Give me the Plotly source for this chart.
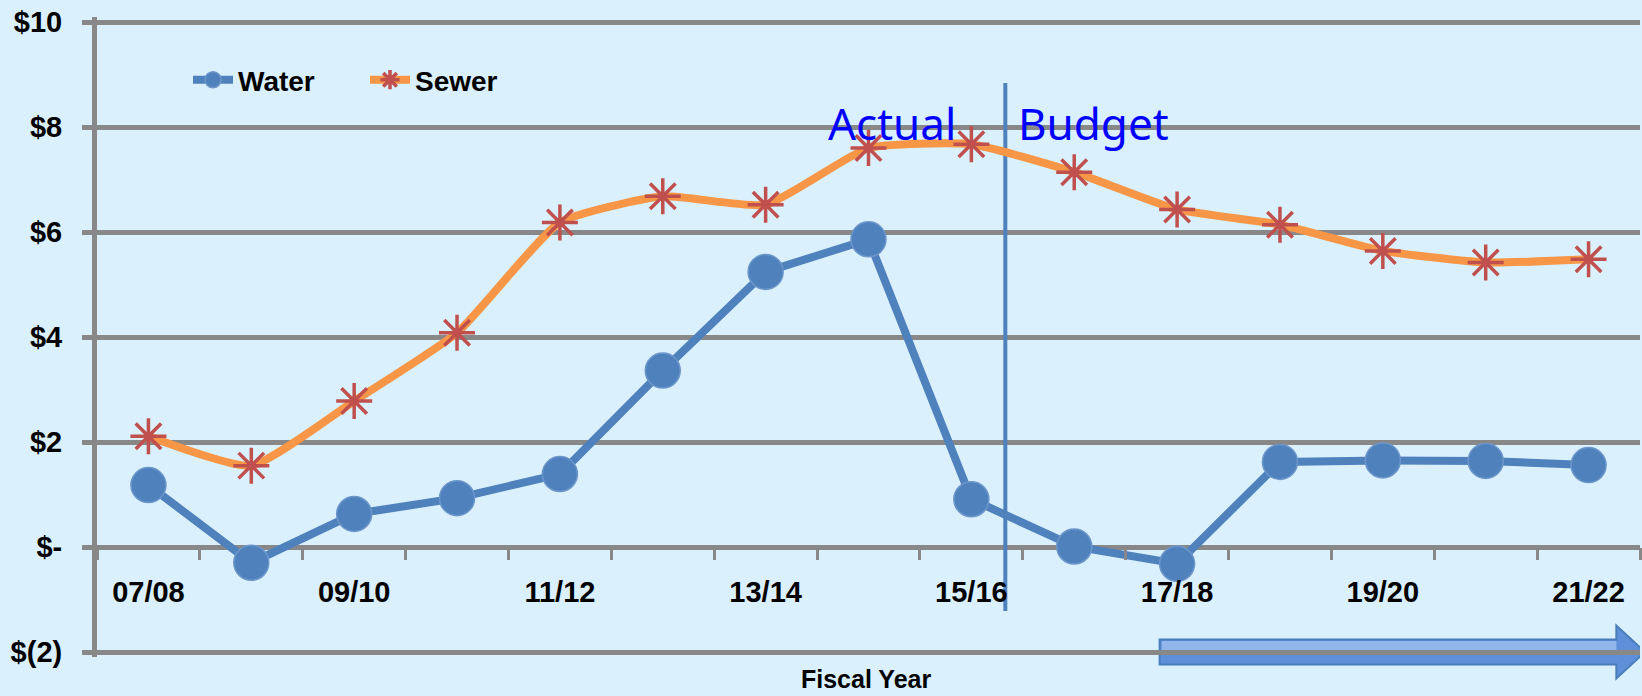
import plotly.graph_objects as go

# ---------------- data ----------------
categories = ["07/08", "08/09", "09/10", "10/11", "11/12", "12/13", "13/14", "14/15",
              "15/16", "16/17", "17/18", "18/19", "19/20", "20/21", "21/22"]
water = [1.18, -0.30, 0.63, 0.93, 1.39, 3.36, 5.24, 5.86, 0.91, 0.01, -0.32, 1.62, 1.65, 1.64, 1.56]
sewer = [2.11, 1.55, 2.78, 4.08, 6.18, 6.68, 6.52, 7.60, 7.67, 7.14, 6.43, 6.14, 5.64, 5.42, 5.48]
y_tick_values = [-2, 0, 2, 4, 6, 8, 10]
y_tick_labels = ["$(2)", "$-", "$2", "$4", "$6", "$8", "$10"]
series_names = ["Water", "Sewer"]
divider_text = ["Actual", "Budget"]
x_title = "Fiscal Year"

# ---------------- styling ----------------
BG = "#DAF0FC"
GRID = "#888888"
BLUE = "#4F81BD"
ORANGE = "#F79646"
RED = "#C0504D"
FONT = "Liberation Sans"

idx = list(range(len(categories)))
y_min, y_max = -2, 10
W, H = 1642, 696
GRID_TOP, GRID_BOTTOM = 22, 652       # pixel rows of the $10 and $(2) gridlines
PAD = 5                                # extra pixels so edge gridlines are drawn
M_L, M_R = 97, 2
M_T = GRID_TOP - PAD
M_B = H - GRID_BOTTOM - PAD
plot_h = H - M_T - M_B
px_per_unit = (GRID_BOTTOM - GRID_TOP) / (y_max - y_min)
pad_units = PAD / px_per_unit
y_range = [y_min - pad_units, y_max + pad_units]

def paper_from_px_offset(off_px):
    """paper y for a pixel offset measured upward from the y_min gridline"""
    return (PAD + off_px) / plot_h

fig = go.Figure()

fig.add_trace(go.Scatter(
    x=idx, y=water, name=series_names[0], mode="lines+markers",
    line=dict(color=BLUE, width=8),
    marker=dict(symbol="circle", size=35, color=BLUE, line=dict(color="#6D97CB", width=1.5)),
))
fig.add_trace(go.Scatter(
    x=idx, y=sewer, name=series_names[1], mode="lines+markers",
    line=dict(color=ORANGE, width=8, shape="spline", smoothing=0.5),
    marker=dict(symbol="asterisk-open", size=30, color=RED, line=dict(color=RED, width=3.5)),
))

# divider between actual and budget
div_x = 8.33
fig.add_shape(type="line", xref="x", yref="y", x0=div_x, x1=div_x, y0=-1.22, y1=8.84,
              line=dict(color=BLUE, width=4), layer="between")

fig.add_annotation(x=7.87, y=8.08, xref="x", yref="y", text=divider_text[0], showarrow=False,
                   xanchor="right", yanchor="middle",
                   font=dict(family="Noto Sans", size=44, color="#0000FF"))
fig.add_annotation(x=8.43, y=8.08, xref="x", yref="y", text=divider_text[1], showarrow=False,
                   xanchor="left", yanchor="middle",
                   font=dict(family="Noto Sans", size=44, color="#0000FF"))

# arrow along the bottom gridline (budget direction)
a_x0, a_xb, a_xt = 9.83, 14.27, 14.55
shaft, head = 12.5, 26.5
p = paper_from_px_offset
path = (f"M {a_x0},{p(shaft)} L {a_xb},{p(shaft)} L {a_xb},{p(head)} "
        f"L {a_xt},{p(0)} L {a_xb},{p(-head)} L {a_xb},{p(-shaft)} "
        f"L {a_x0},{p(-shaft)} Z")
fig.add_shape(type="path", xref="x", yref="paper", path=path,
              fillcolor="#5E8FD8", line=dict(color="#4A7EBB", width=2), layer="below")
fig.add_shape(type="rect", xref="x", yref="paper", x0=a_x0 + 0.02, x1=a_xb, y0=p(0), y1=p(shaft - 1.5),
              fillcolor="#90B6EC", line=dict(width=0), layer="below")

fig.add_annotation(x=(866 - M_L) / (W - M_L - M_R), y=paper_from_px_offset(-27),
                   xref="paper", yref="paper", text=x_title, showarrow=False,
                   xanchor="center", yanchor="middle",
                   font=dict(family=FONT, size=25, color="black", weight="bold"))

fig.update_layout(
    width=W, height=H,
    margin=dict(l=M_L, r=M_R, t=M_T, b=M_B),
    paper_bgcolor=BG, plot_bgcolor=BG,
    showlegend=True,
    legend=dict(orientation="h", x=(188 - M_L) / (W - M_L - M_R), y=paper_from_px_offset(GRID_BOTTOM - 80),
                xanchor="left", yanchor="middle",
                bgcolor="rgba(0,0,0,0)", font=dict(family=FONT, size=28, color="black", weight="bold"),
                itemwidth=40, entrywidth=122, traceorder="normal"),
    xaxis=dict(
        range=[-0.5, len(categories) - 0.5],
        tickmode="array", tickvals=idx[::2], ticktext=categories[::2],
        ticks="", showgrid=False, zeroline=False, showline=False,
        anchor="free", position=(0 - y_range[0]) / (y_range[1] - y_range[0]),
        tickfont=dict(family=FONT, size=29, color="black", weight="bold"),
        ticklabelstandoff=25,
        minor=dict(tickmode="linear", tick0=-0.5, dtick=1, ticks="outside", ticklen=12,
                   tickwidth=3, tickcolor=GRID, showgrid=False),
    ),
    yaxis=dict(
        range=y_range,
        tickmode="array", tickvals=y_tick_values, ticktext=y_tick_labels,
        ticks="outside", ticklen=10, tickwidth=5, tickcolor=GRID,
        showline=True, linecolor=GRID, linewidth=5,
        showgrid=True, gridcolor=GRID, gridwidth=5, zeroline=False,
        tickfont=dict(family=FONT, size=29, color="black", weight="bold"),
        ticklabelstandoff=14,
    ),
)

fig.write_html("out.html", config={"displayModeBar": False},
               post_script="document.body.style.margin='0';document.body.style.background='" + BG + "';")
